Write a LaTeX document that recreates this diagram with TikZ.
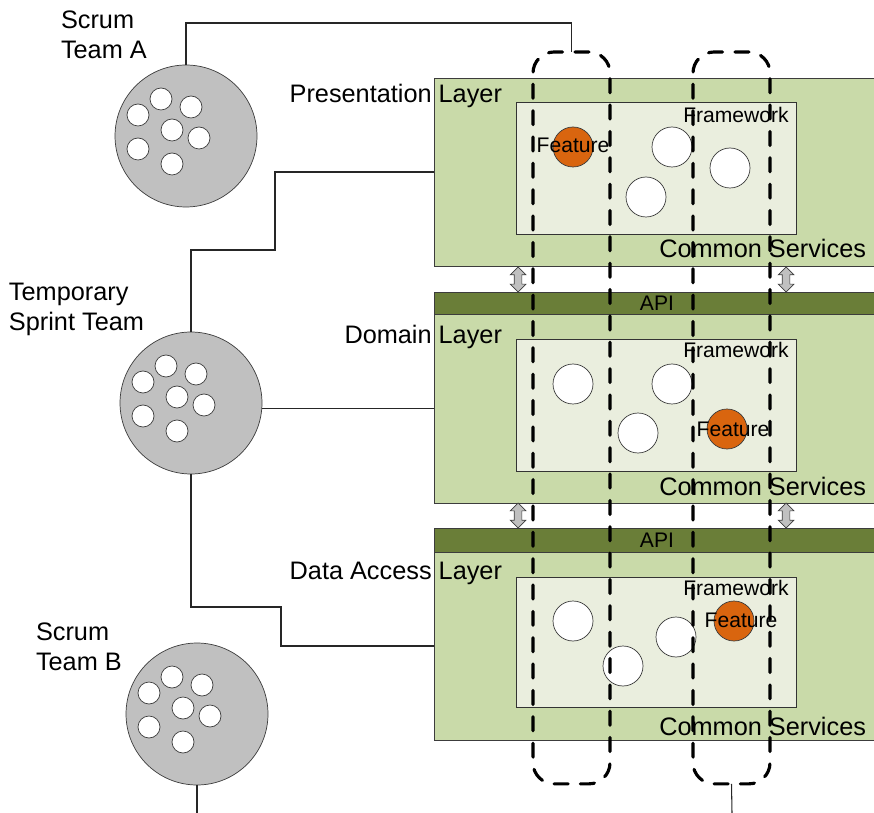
\documentclass[tikz,border=0pt]{standalone}
\usepackage{fontspec}
\setmainfont{Liberation Sans}
\usetikzlibrary{positioning}
\usetikzlibrary{shapes.arrows}
\definecolor{layergreen}{RGB}{201,218,169}
\definecolor{apigreen}{RGB}{106,126,56}
\definecolor{innergreen}{RGB}{234,238,222}
\definecolor{featorange}{RGB}{217,101,15}
\definecolor{teamgrey}{RGB}{192,192,192}
\definecolor{edgegrey}{RGB}{60,60,60}

\tikzset{
  every node/.style={inner sep=0pt,outer sep=0pt},
  bigtext/.style={font=\fontsize{14.4}{17}\selectfont},
  smalltext/.style={font=\fontsize{12}{14}\selectfont},
  team/.style={circle,draw=edgegrey,fill=teamgrey,minimum size=2.84cm},
  member/.style={circle,draw=edgegrey,fill=white,minimum size=0.44cm},
  comp/.style={circle,draw=edgegrey,fill=white,minimum size=0.8cm},
  feat/.style={comp,fill=featorange},
  layerbox/.style={draw=edgegrey,fill=layergreen,anchor=north west,minimum width=8.92cm},
  apibar/.style={draw=edgegrey,fill=apigreen,anchor=north west,minimum width=8.92cm},
  innerbox/.style={draw=black!80,fill=innergreen,anchor=north west,minimum width=5.6cm},
  slice/.style={draw=black,line width=1.8pt,dash pattern=on 8pt off 7pt,line cap=round,
    rounded corners=12pt,anchor=north west,minimum width=1.54cm,minimum height=14.64cm},
  link/.style={draw=black!85,line width=0.6pt},
  iface/.style={double arrow,draw=edgegrey,fill=teamgrey,rotate=90,inner sep=0.07cm,
    minimum height=0.5cm,minimum width=0.3cm,double arrow head extend=0.08cm}
}

\begin{document}
\begin{tikzpicture}[x=0.02cm,y=-0.02cm]
\clip (0,0) rectangle (874,813);

% layers
\node[layerbox,minimum height=3.76cm] (pres) at (434,78) {};
\node[apibar,minimum height=0.44cm] (apiD) at (434,292) {};
\node[layerbox,minimum height=3.78cm] (dom) at (434,314) {};
\node[apibar,minimum height=0.48cm] (apiA) at (434,528) {};
\node[layerbox,minimum height=3.76cm] (data) at (434,552) {};

\node[innerbox,minimum height=2.64cm] (presIn) at (516,102) {};
\node[innerbox,minimum height=2.64cm] (domIn) at (516,339) {};
\node[innerbox,minimum height=2.6cm] (dataIn) at (516,577) {};

\node[smalltext] (apiDtext) at (apiD.center) {API};
\node[smalltext] (apiAtext) at (apiA.center) {API};

\node[bigtext,anchor=base east] (presName) at (502,103) {Presentation Layer};
\node[bigtext,anchor=base east] (domName) at (502,344) {Domain Layer};
\node[bigtext,anchor=base east] (dataName) at (502,579) {Data Access Layer};

\node[bigtext,anchor=base east] (presCommon) at (866,258) {Common Services};
\node[bigtext,anchor=base east] (domCommon) at (866,495) {Common Services};
\node[bigtext,anchor=base east] (dataCommon) at (866,735) {Common Services};

\node[smalltext,anchor=base] (presFw) at (736,123) {Framework};
\node[smalltext,anchor=base] (domFw) at (736,358) {Framework};
\node[smalltext,anchor=base] (dataFw) at (736,595) {Framework};

% components
\node[feat] (presF) at (573,147) {};
\node[comp] (presC1) at (672,147) {};
\node[comp] (presC2) at (646,197) {};
\node[comp] (presC3) at (730,168) {};
\node[comp] (domC1) at (573,384) {};
\node[comp] (domC2) at (672,384) {};
\node[comp] (domC3) at (638,433) {};
\node[feat] (domF) at (727,429) {};
\node[comp] (dataC1) at (573,621) {};
\node[comp] (dataC2) at (623,666) {};
\node[comp] (dataC3) at (676,637) {};
\node[feat] (dataF) at (734,621) {};

\node[smalltext,anchor=base] (presFtext) at (573,153) {Feature};
\node[smalltext,anchor=base] (domFtext) at (733,436) {Feature};
\node[smalltext,anchor=base] (dataFtext) at (741,627) {Feature};

% interfaces between layers
\node[iface] (presDomL) at (518,279.5) {};
\node[iface] (presDomR) at (786,279.5) {};
\node[iface] (domDataL) at (518,515.5) {};
\node[iface] (domDataR) at (786,515.5) {};

% vertical slices
\node[slice] (sliceA) at (533,52) {};
\node[slice] (sliceB) at (693,52) {};

% teams
\node[team] (teamA) at (186,136) {};
\node[team] (temp) at (191,403) {};
\node[team] (teamB) at (197,714) {};
\foreach \t in {teamA,temp,teamB}
  \foreach \dx/\dy [count=\i] in {-48/-21,-25/-37,5/-29,-14/-6,13/2,-48/13,-14/28}
    \node[member] (\t-\i) at ([shift={(\dx,\dy)}]\t.center) {};

\node[bigtext,align=left,anchor=west] (teamAName) at (61,35) {Scrum\\Team A};
\node[bigtext,align=left,anchor=west] (tempName) at (9,309) {Temporary\\Sprint Team};
\node[bigtext,align=left,anchor=west] (teamBName) at (36,647) {Scrum\\Team B};

% connections
\coordinate (topBend) at (186,23);
\coordinate (presBend) at (275,250);
\coordinate (dataBend) at (281,607);
\coordinate (bottomB) at (197,813);
\coordinate (bottomSlice) at (732,813);

\draw[link] (teamA.north) -- (topBend) -| (sliceA.north);
\draw[link] (temp.north) |- (presBend) |- (pres.west);
\draw[link] (dom.west) -- (dom.west -| temp.east);
\draw[link] (temp.south) |- (dataBend) |- (data.west);
\draw[link] (teamB.south) -- (bottomB);
\draw[link] (sliceB.south) -- (bottomSlice);
\end{tikzpicture}
\end{document}
